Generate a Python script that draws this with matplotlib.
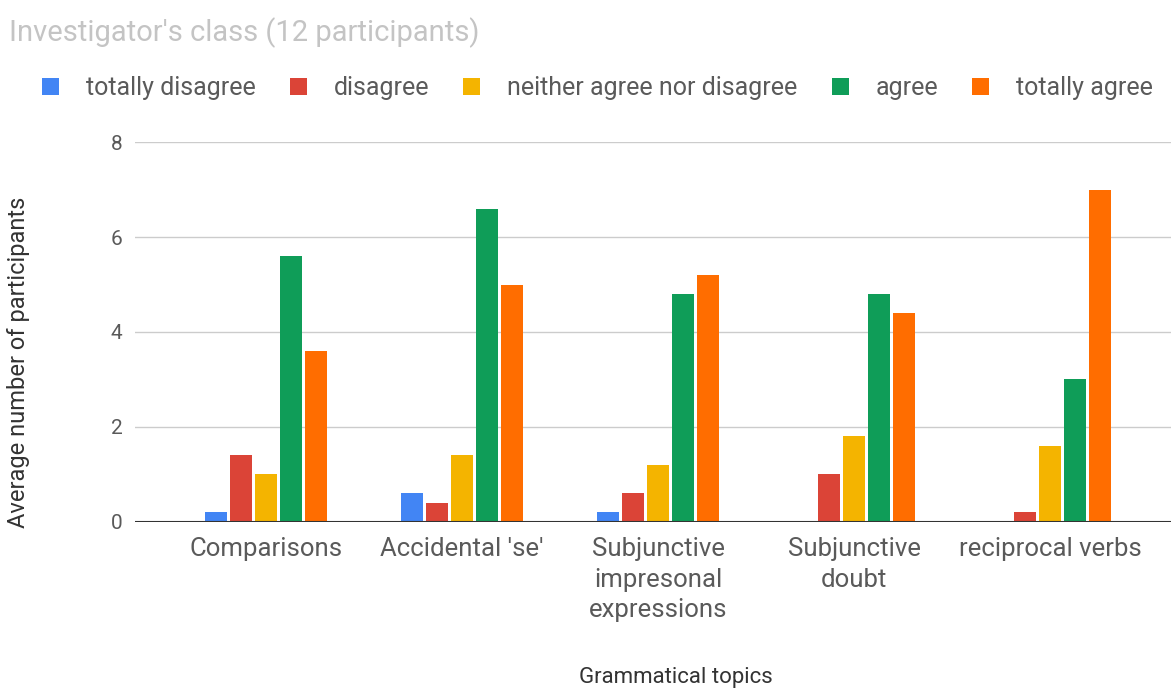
import numpy as np
import matplotlib.pyplot as plt

# data
topics = ["Comparisons", "Accidental 'se'", "Subjunctive\nimpresonal\nexpressions",
          "Subjunctive\ndoubt", "reciprocal verbs"]
series_names = ["totally disagree", "disagree", "neither agree nor disagree",
                "agree", "totally agree"]
totally_disagree = [0.2, 0.6, 0.2, 0.0, 0.0]
disagree = [1.4, 0.4, 0.6, 1.0, 0.2]
neither = [1.0, 1.4, 1.2, 1.8, 1.6]
agree = [5.6, 6.6, 4.8, 4.8, 3.0]
totally_agree = [3.6, 5.0, 5.2, 4.4, 7.0]
y_ticks = [0, 2, 4, 6, 8]

colors = ["#4285F4", "#DB4437", "#F4B400", "#0F9D58", "#FF6D00"]
values = [totally_disagree, disagree, neither, agree, totally_agree]

plt.rcParams['font.family'] = ['Roboto', 'DejaVu Sans']

fig = plt.figure(figsize=(11.71, 6.88), dpi=100)
ax = fig.add_axes([0.1153, 0.2417, 0.8847, 0.5515])

x = np.arange(len(topics))
step = 0.1276
width = 0.112
for i, (name, vals) in enumerate(zip(series_names, values)):
    ax.bar(x + (i - 2) * step, vals, width, color=colors[i], label=name, zorder=3)

ax.set_xlim(-0.668, 4.617)
ax.set_ylim(0, 8)
ax.set_yticks(y_ticks)
ax.set_xticks(x)
ax.set_xticklabels(topics, linespacing=1.35)
ax.tick_params(axis='both', length=0, colors="#5a5a5a")
ax.tick_params(axis='x', pad=11, labelsize=18.5)
ax.tick_params(axis='y', pad=9, labelsize=15)
ax.grid(axis='y', color="#cccccc", linewidth=1, zorder=0)
for s in ax.spines.values():
    s.set_visible(False)
ax.axhline(0, color="#333333", linewidth=1.5, zorder=4)

ax.set_ylabel("Average number of participants", fontsize=17, color="#333333")
ax.yaxis.set_label_coords(-0.101, 0.421)
fig.text(676 / 1171, 1 - 678 / 688, "Grammatical topics", fontsize=16, color="#333333",
         ha='center', va='center')
fig.text(0.008, 1 - 33 / 688, "Investigator's class (12 participants)", fontsize=21,
         color="#c4c4c4", ha='left', va='center')

leg = fig.legend(loc='center left', bbox_to_anchor=(0.036, 1 - 88 / 688), ncol=5,
                 frameon=False, fontsize=18, handlelength=0.68, handleheight=0.68,
                 handletextpad=1.08, columnspacing=1.36, borderaxespad=0, borderpad=0)
for t in leg.get_texts():
    t.set_color("#5a5a5a")

fig.savefig("out.png", dpi=100)
